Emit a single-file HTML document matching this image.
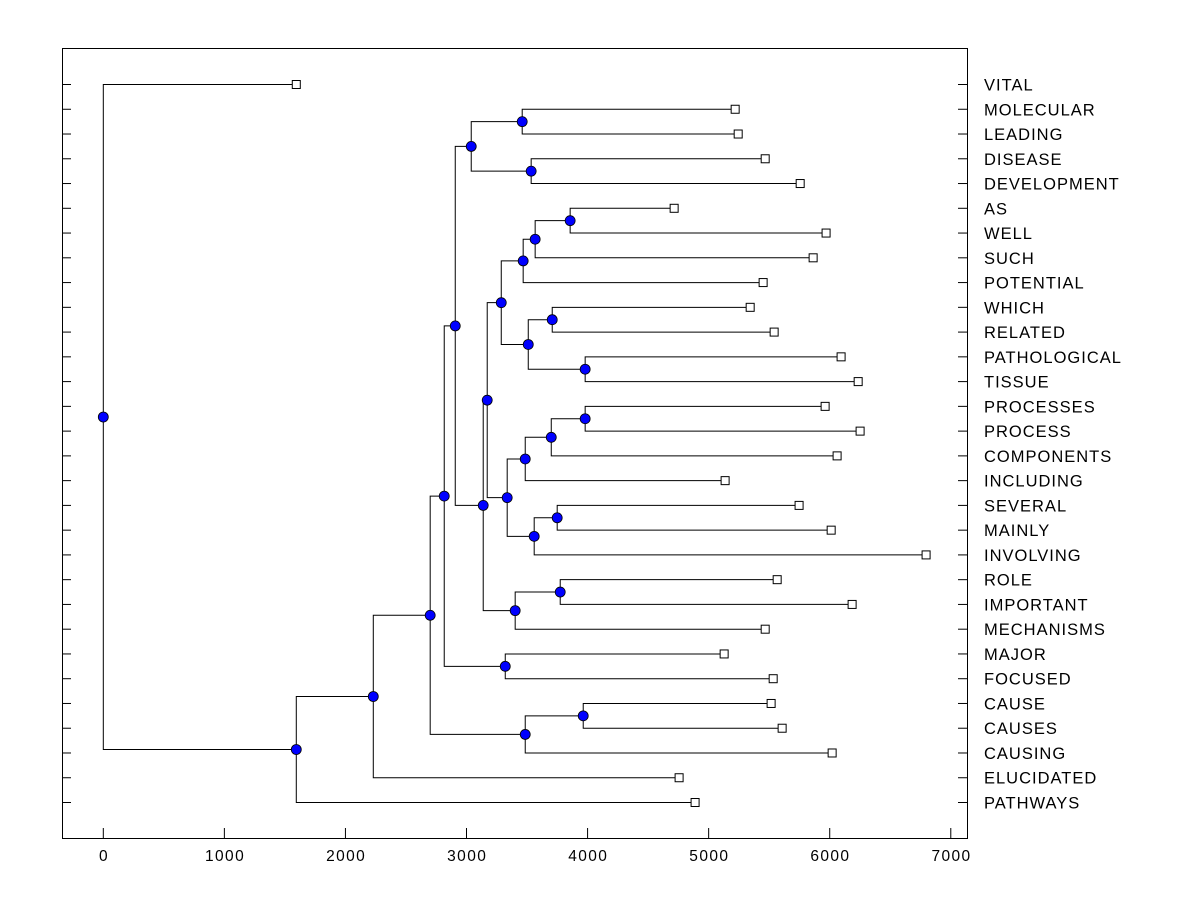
<!DOCTYPE html>
<html><head><meta charset="utf-8"><style>
body{margin:0;background:#fff;}
svg{display:block;font-family:"Liberation Sans",Arial,sans-serif;}
</style></head><body>
<svg id="chart" width="1200" height="900" xmlns="http://www.w3.org/2000/svg">
<rect x="62.5" y="48.5" width="905" height="790" fill="#fff" stroke="#000" stroke-width="1"/>
<g id="links"></g><g id="marks"></g><g id="labels"></g><g id="axis"></g>
</svg>
<script>
const leafNames = ["VITAL","MOLECULAR","LEADING","DISEASE","DEVELOPMENT","AS","WELL","SUCH","POTENTIAL","WHICH","RELATED","PATHOLOGICAL","TISSUE","PROCESSES","PROCESS","COMPONENTS","INCLUDING","SEVERAL","MAINLY","INVOLVING","ROLE","IMPORTANT","MECHANISMS","MAJOR","FOCUSED","CAUSE","CAUSES","CAUSING","ELUCIDATED","PATHWAYS"];
const leafValues = [1594,5219,5244,5467,5756,4715,5970,5863,5450,5343,5541,6094,6235,5962,6251,6061,5136,5747,6012,6796,5566,6185,5467,5128,5533,5516,5607,6020,4756,4888];
// merges: ids <30 are leaves, 30+k is merge k
const mergeLeft  = [1,3,30,5,33,34,9,11,36,35,13,40,41,17,43,42,39,20,47,46,32,23,50,25,53,52,55,56,0];
const mergeRight = [2,4,31,6,7,8,10,12,37,38,14,15,16,18,19,44,45,21,22,48,49,24,51,26,27,54,28,29,57];
const mergeHeight= [3460,3534,3039,3856,3567,3468,3708,3980,3510,3287,3980,3700,3485,3749,3559,3336,3171,3774,3402,3138,2907,3320,2816,3964,3485,2700,2230,1594,0];
const xTicks = [0,1000,2000,3000,4000,5000,6000,7000];

const NS="http://www.w3.org/2000/svg";
const X = v => 103.3 + v*0.12107;
const leafY = i => 84.5 + i*(802.5-84.5)/29;
function mk(tag, attrs, parent){const e=document.createElementNS(NS,tag);for(const k in attrs)e.setAttribute(k,attrs[k]);parent.appendChild(e);return e;}
const gL=document.getElementById('links'), gM=document.getElementById('marks'), gT=document.getElementById('labels'), gA=document.getElementById('axis');
const nodeX=[], nodeY=[];
leafNames.forEach((n,i)=>{nodeX[i]=X(leafValues[i]);nodeY[i]=leafY(i);});
mergeHeight.forEach((h,k)=>{
  const id=30+k,a=mergeLeft[k],b=mergeRight[k];
  nodeX[id]=X(h);nodeY[id]=(nodeY[a]+nodeY[b])/2;
  const p=mk('path',{d:`M${nodeX[a]},${nodeY[a]}H${nodeX[id]}V${nodeY[b]}H${nodeX[b]}`,fill:'none',stroke:'#000','stroke-width':1},gL);
  
  
});
mergeHeight.forEach((h,k)=>{
  const id=30+k;
  const c=mk('circle',{cx:nodeX[id],cy:nodeY[id],r:5,fill:'#0000ff',stroke:'#000','stroke-width':0.8},gM);
  
  
});
leafNames.forEach((n,i)=>{
  const y=nodeY[i];
  const r=mk('rect',{x:nodeX[i]-4,y:y-4,width:8,height:8,fill:'#fff',stroke:'#000','stroke-width':1},gM);
  
  
  const t1=mk('line',{x1:62,y1:y,x2:71,y2:y,stroke:'#000'},gA);
  
  
  const t2=mk('line',{x1:958,y1:y,x2:967,y2:y,stroke:'#000'},gA);
  
  
  const t=mk('text',{x:984,y:y+6,'font-size':16.5,'letter-spacing':1,fill:'#000'},gT);
  t.textContent=n;
  
  
});
xTicks.forEach(v=>{
  const x=X(v);
  const l=mk('line',{x1:x,y1:828,x2:x,y2:838,stroke:'#000'},gA);
  
  
  const t=mk('text',{x:x+0.7,y:861,'font-size':15.5,'letter-spacing':1.4,'text-anchor':'middle',fill:'#000'},gA);
  t.textContent=v;
  
  
});
</script>
</body></html>
